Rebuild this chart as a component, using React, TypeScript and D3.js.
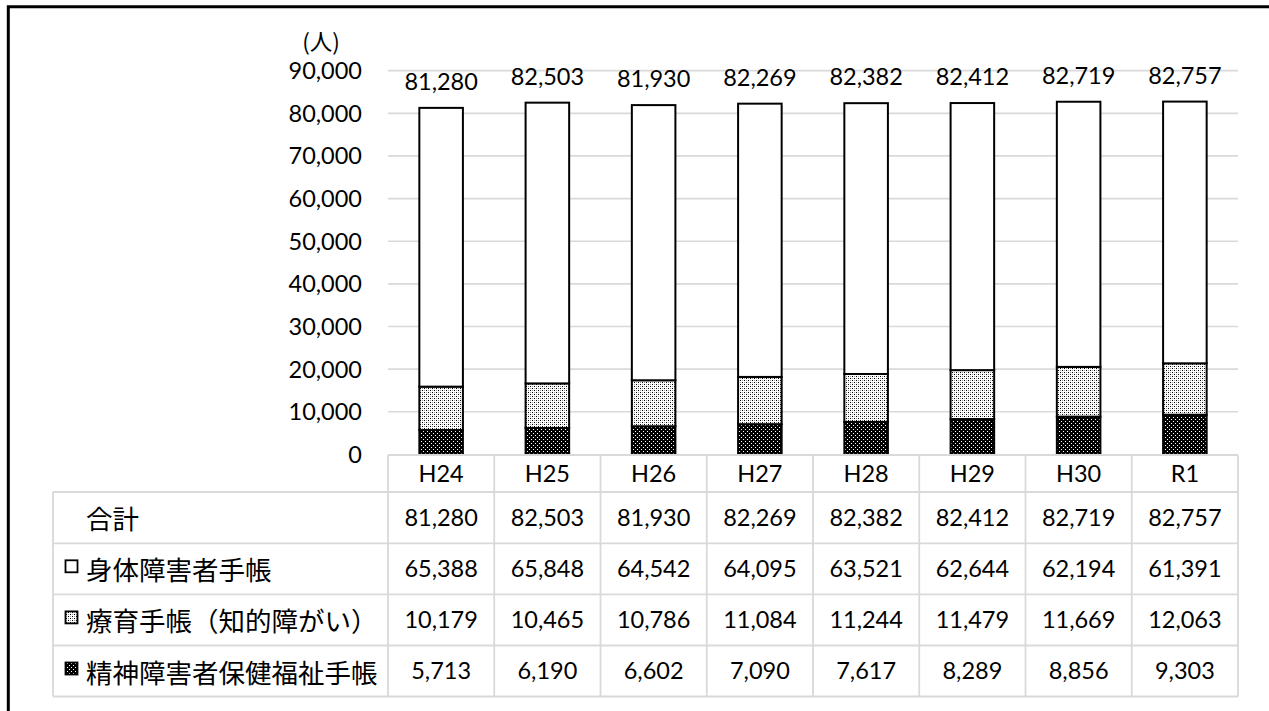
import React from "react";
import * as d3 from "d3";

const years = ["H24", "H25", "H26", "H27", "H28", "H29", "H30", "R1"];
const physical = [65388, 65848, 64542, 64095, 63521, 62644, 62194, 61391];
const intellectual = [10179, 10465, 10786, 11084, 11244, 11479, 11669, 12063];
const mental = [5713, 6190, 6602, 7090, 7617, 8289, 8856, 9303];
const totals = [81280, 82503, 81930, 82269, 82382, 82412, 82719, 82757];
const yTicks = [0, 10000, 20000, 30000, 40000, 50000, 60000, 70000, 80000, 90000];
const totalLabel = "合計";
const seriesNames = ["身体障害者手帳", "療育手帳（知的障がい）", "精神障害者保健福祉手帳"];
const unitLabel = "(人)";

const W = 1269;
const H = 711;
const numFont = "Lato, 'Open Sans', sans-serif";
const jpFont = "'Noto Sans CJK JP', 'Noto Sans', sans-serif";
const FS = 23.5;
const grid = "#d9d9d9";

export default function App() {
  const x0 = 388, x1 = 1238;
  const yBase = 454.4, yTop = 70.7;
  const col = d3.scaleBand<string>().domain(years).range([x0, x1]).padding(0);
  const bar = d3.scaleBand<string>().domain(years).range([x0, x1]).paddingInner(0.59).paddingOuter(0.295);
  const y = d3.scaleLinear().domain([0, 90000]).range([yBase, yTop]);
  const fmt = d3.format(",");

  const series = [
    { name: seriesNames[2], values: mental, fill: "url(#darkDots)" },
    { name: seriesNames[1], values: intellectual, fill: "url(#lightDots)" },
    { name: seriesNames[0], values: physical, fill: "#ffffff" },
  ];

  const tableTop = 455;
  const rowBounds = [455, 492, 543.3, 594.3, 645.5, 696.5];
  const tableLeft = 53;
  const rows = [
    { label: totalLabel, values: totals, icon: null as string | null },
    { label: seriesNames[0], values: physical, icon: "#ffffff" },
    { label: seriesNames[1], values: intellectual, icon: "url(#lightDots)" },
    { label: seriesNames[2], values: mental, icon: "url(#darkDots)" },
  ];

  return (
    <svg width={W} height={H} style={{ position: "absolute", left: 0, top: 0, background: "#fff" }}>
      <defs>
        <pattern id="lightDots" width="4" height="4" patternUnits="userSpaceOnUse">
          <rect width="4" height="4" fill="#ffffff" />
          <rect x="0" y="0" width="1" height="1" fill="#000" />
          <rect x="2" y="2" width="1" height="1" fill="#000" />
          <rect x="2" y="0" width="1" height="1" fill="#9a9a9a" />
          <rect x="0" y="2" width="1" height="1" fill="#9a9a9a" />
        </pattern>
        <pattern id="darkDots" width="4" height="4" patternUnits="userSpaceOnUse">
          <rect width="4" height="4" fill="#000" />
          <rect x="1" y="1" width="1" height="1" fill="#fff" />
          <rect x="3" y="3" width="1" height="1" fill="#fff" />
        </pattern>
      </defs>
      <rect x={0} y={0} width={W} height={H} fill="#fff" />
      <path d={`M8.3,${H + 10} L8.3,6.7 L${W + 10},6.7`} fill="none" stroke="#000" strokeWidth={3} />

      <text x={321} y={39.5} textAnchor="middle" dominantBaseline="central" fontFamily={jpFont} fontSize={22.5} fill="#000">{unitLabel}</text>

      {yTicks.map((t) => (
        <g key={t}>
          {t > 0 && <line x1={x0} x2={x1} y1={y(t)} y2={y(t)} stroke={grid} strokeWidth={1.7} />}
          <text x={362} y={y(t)} dy="0.36em" textAnchor="end" fontFamily={numFont} fontSize={FS} fill="#000">{fmt(t)}</text>
        </g>
      ))}

      {years.map((yr, i) => {
        let acc = 0;
        return (
          <g key={yr}>
            {series.map((s) => {
              const v = s.values[i];
              const yb = y(acc);
              acc += v;
              const yt = y(acc);
              return (
                <rect key={s.name} x={bar(yr)!} y={yt} width={bar.bandwidth()} height={yb - yt} fill={s.fill} stroke="#000" strokeWidth={2} />
              );
            })}
            <text x={col(yr)! + col.bandwidth() / 2} y={y(totals[i]) - 18} textAnchor="middle" fontFamily={numFont} fontSize={FS} fill="#000">{fmt(totals[i])}</text>
          </g>
        );
      })}

      <g stroke={grid} strokeWidth={1.8} fill="none">
        <line x1={x0} x2={x1} y1={tableTop} y2={tableTop} />
        {rowBounds.slice(1).map((b) => (
          <line key={b} x1={tableLeft} x2={x1} y1={b} y2={b} />
        ))}
        <line x1={tableLeft} x2={tableLeft} y1={rowBounds[1]} y2={rowBounds[5]} />
        {years.map((yr) => (
          <line key={yr} x1={col(yr)!} x2={col(yr)!} y1={tableTop} y2={rowBounds[5]} />
        ))}
        <line x1={x1} x2={x1} y1={tableTop} y2={rowBounds[5]} />
      </g>
      {years.map((yr) => (
        <text key={yr} x={col(yr)! + col.bandwidth() / 2} y={(rowBounds[0] + rowBounds[1]) / 2} dy="0.36em" textAnchor="middle" fontFamily={numFont} fontSize={FS} fill="#000">{yr}</text>
      ))}
      {rows.map((r, ri) => {
        const cy = (rowBounds[ri + 1] + rowBounds[ri + 2]) / 2;
        return (
          <g key={r.label}>
            {r.icon && <rect x={65.5} y={cy - 8.5} width={12} height={12} fill={r.icon} stroke="#000" strokeWidth={1.8} />}
            <text x={86} y={cy} dominantBaseline="central" fontFamily={jpFont} fontSize={26.5} fill="#000">{r.label}</text>
            {r.values.map((v, i) => (
              <text key={i} x={col(years[i])! + col.bandwidth() / 2} y={cy} dy="0.36em" textAnchor="middle" fontFamily={numFont} fontSize={FS} fill="#000">{fmt(v)}</text>
            ))}
          </g>
        );
      })}
    </svg>
  );
}
